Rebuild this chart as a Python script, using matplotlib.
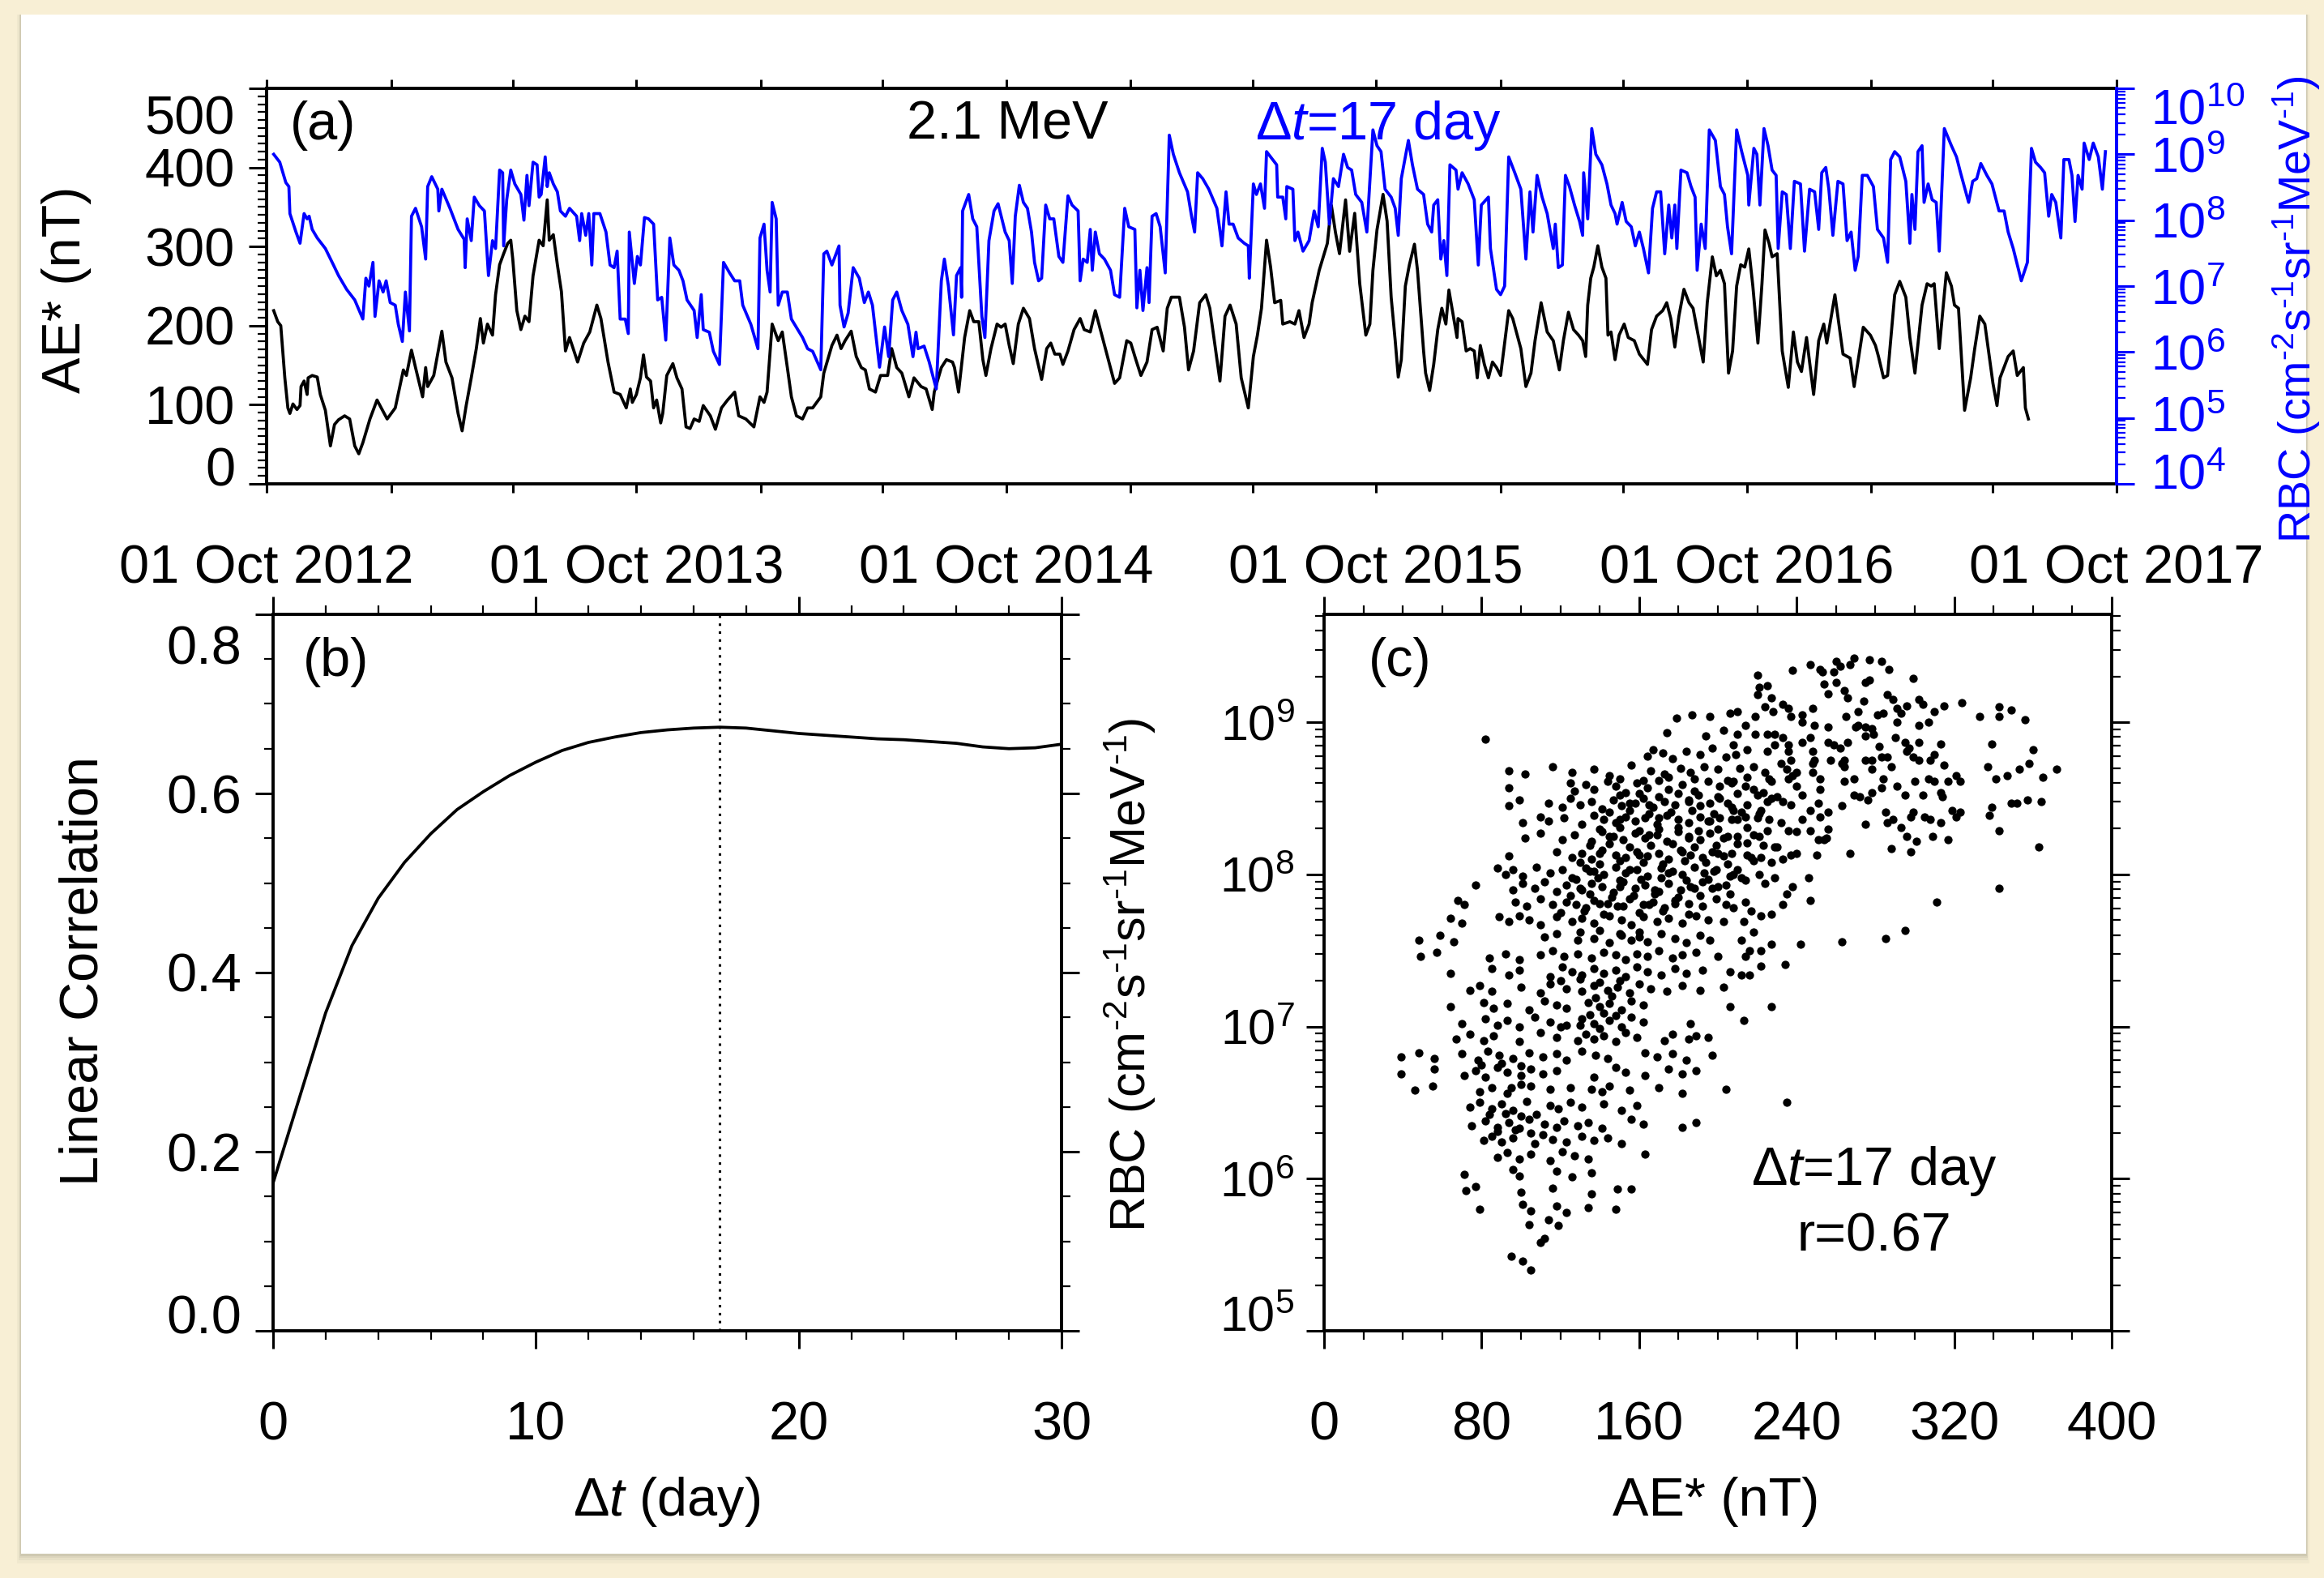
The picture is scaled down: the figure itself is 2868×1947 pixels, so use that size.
import numpy as np
import matplotlib
matplotlib.use("Agg")
import matplotlib.pyplot as plt
from matplotlib.patches import Rectangle
from matplotlib.transforms import Affine2D
from matplotlib.ticker import MultipleLocator, FixedLocator, FixedFormatter, LogLocator, NullFormatter

plt.rcParams['font.family'] = ['Liberation Sans', 'DejaVu Sans']
plt.rcParams['mathtext.fontset'] = 'custom'
plt.rcParams['mathtext.rm'] = 'Liberation Sans'
plt.rcParams['mathtext.it'] = 'Liberation Sans:italic'
plt.rcParams['mathtext.bf'] = 'Liberation Sans:bold'

# ---------------- data ----------------
START = np.datetime64('2012-10-01')
END = np.datetime64('2017-10-01')

# (a) AE* (nT), days since 01 Oct 2012
ae_days = [7,11,14,18,21,23,26,30,33,34,37,40,41,45,50,53,58,63,67,71,77,82,87,91,95,102,109,114,119,127,
           131,135,138,143,147,154,157,159,165,173,177,183,189,193,197,202,207,211,214,218,223,226,230,234,238,241,243,247,251,255,
           259,263,269,273,277,279,283,287,291,295,299,307,313,319,326,330,337,343,349,355,359,
           361,365,369,372,375,379,382,385,389,391,395,401,405,410,414,418,422,427,431,438,443,449,455,462,466,473,481,487,491,494,
           499,505,509,514,518,523,529,534,539,547,550,558,563,567,571,577,582,587,591,595,601,606,613,617,622,627,634,639,646,651,
           657,659,666,671,677,679,683,689,694,698,703,707,710,715,721,
           725,729,733,737,742,747,753,758,765,770,774,778,783,786,791,797,803,807,813,818,823,830,837,842,849,853,858,863,869,874,
           879,885,889,893,901,906,910,915,921,927,931,935,941,946,951,957,962,969,974,978,982,987,991,995,1001,1003,1010,1015,1019,1024,
           1029,1032,1039,1047,1051,1055,1059,1065,1069,1074,1079,1085,
           1089,1092,1096,1102,1106,1110,1114,1117,1120,1124,1128,1133,1136,1142,1144,1148,1152,1156,1160,1164,
           1167,1171,1175,1176,1180,1184,1188,1192,1195,1198,1202,1206,1210,1214,1218,1226,1230,1238,1243,1248,
           1252,1258,1264,1270,1276,1280,1285,1290,1295,1299,1302,1304,1307,1310,1314,1318,1322,1324,1327,1331,
           1335,1340,1344,1350,1355,1363,1367,1372,1378,1382,1386,1390,1394,1399,1404,1408,1412,1418,1422,1427,
           1431,1435,1439,1443,1447,1451,
           1455,1459,1463,1467,1472,1476,1479,1483,1486,1491,1496,1502,1507,1511,1515,1520,1527,1532,1537,1540,
           1548,1556,1563,1567,1576,1583,1588,1591,1596,1600,1607,1612,1618,1622,1627,1634,1639,1643,1646,1651,
           1658,1663,1666,1670,1676,1682,1686,1691,1696,1704,1708,1711,1719,1724,1728,1734,1736,1739]
ae_nT = [219,205,200,134,96,89,101,94,99,123,130,113,134,137,135,113,93,48,75,81,86,82,48,38,52,82,106,94,82,96,
         120,144,137,169,147,110,147,123,137,193,154,134,89,67,99,134,171,209,178,202,188,239,277,291,304,308,284,219,195,212,
         205,263,308,301,359,308,315,277,243,168,185,154,178,192,226,209,154,116,113,96,120,
         103,113,134,163,135,130,96,106,77,89,137,152,134,120,72,70,82,79,99,86,69,96,106,116,86,82,72,110,103,116,
         202,181,192,147,110,86,82,96,96,110,140,175,188,171,181,193,161,147,144,120,116,137,137,171,147,140,110,134,123,120,
         94,116,147,157,154,147,116,185,219,205,205,157,137,171,202,
         198,202,175,152,202,222,209,171,132,171,178,164,164,151,168,195,209,195,192,219,195,161,127,134,181,178,157,137,154,195,
         198,168,222,236,236,198,144,168,229,239,222,185,130,212,226,202,134,96,161,188,222,308,274,229,232,202,205,202,219,185,
         202,229,270,304,352,318,291,359,294,342,253,188,
         202,270,321,366,332,236,181,135,157,250,277,303,270,168,140,118,151,195,222,202,
         245,215,185,209,205,168,171,168,134,175,151,134,154,147,137,219,209,171,123,140,
         181,229,192,181,144,181,217,195,188,181,161,226,260,274,301,274,260,188,192,157,
         188,202,185,181,164,151,195,212,219,229,209,173,212,246,229,222,195,154,229,287,
         263,270,253,140,168,250,
         277,274,297,250,178,253,321,304,287,291,168,122,192,154,142,185,113,181,202,178,
         239,164,159,123,198,188,175,161,134,137,239,256,236,185,140,226,253,250,253,171,
         267,250,226,222,93,134,171,212,202,127,99,134,161,168,137,147,96,82]

# (a) RBC, log10 (cm^-2 s^-1 sr^-1 MeV^-1), days since 01 Oct 2012
rbc_days = [7,13,19,22,23,29,33,37,40,42,45,50,58,66,71,79,87,95,98,101,105,107,111,115,118,122,127,130,134,137,
            141,143,147,153,157,159,163,169,170,173,181,189,195,196,198,202,205,210,215,219,223,226,230,233,234,237,241,245,251,254,
            257,259,263,267,269,271,275,277,279,283,287,290,295,299,306,309,311,315,318,321,323,329,335,339,343,346,349,354,357,358,
            363,366,369,373,377,382,386,390,394,398,402,407,411,415,422,425,429,431,437,441,447,451,457,462,467,470,478,485,487,491,
            494,497,499,503,505,509,514,518,529,534,539,547,550,553,558,565,566,570,574,579,585,590,594,598,605,610,614,618,622,627,
            633,638,641,643,649,654,661,666,669,673,678,681,685,686,687,693,697,701,706,709,713,718,722,
            729,733,736,739,743,747,751,755,758,762,765,769,773,777,782,786,791,795,801,803,806,810,813,815,818,822,827,833,837,842,
            847,851,857,859,862,865,869,871,874,878,882,887,891,895,901,909,913,916,919,924,930,938,943,947,950,954,959,965,969,970,
            974,977,981,985,987,991,997,998,1003,1006,1007,1013,1015,1018,1023,1029,1034,1038,1042,1045,1049,1053,1058,1063,1067,1071,1075,1081,1086,
            1092,1096,1100,1104,1110,1114,1117,1120,1127,1131,1136,1142,1146,1150,1152,1156,1159,1162,1165,1168,
            1174,1176,1180,1186,1192,1196,1199,1206,1208,1214,1218,1222,1226,1232,1238,1243,1247,1250,1254,1259,
            1264,1270,1272,1275,1279,1282,1286,1291,1296,1299,1300,1304,1308,1312,1318,1323,1327,1331,1333,1338,
            1342,1347,1351,1355,1359,1364,1368,1372,1376,1380,1384,1387,1390,1392,1396,1402,1406,1410,1412,1416,
            1420,1424,1430,1435,1439,1442,1446,1451,
            1456,1462,1463,1468,1471,1474,1478,1482,1486,1490,1492,1496,1500,1504,1508,1514,1518,1523,1528,1532,
            1535,1539,1542,1546,1551,1556,1560,1564,1568,1571,1575,1580,1586,1590,1596,1600,1603,1607,1612,1618,
            1622,1624,1627,1630,1634,1636,1640,1644,1648,1651,1656,1663,1668,1672,1680,1684,1688,1692,1698,1703,
            1710,1715,1719,1724,1732,1738,1742,1746,1751,1755,1759,1762,1766,1771,1774,1779,1782,1785,1788,1792,
            1794,1799,1803,1808,1812,1815]
rbc_log10 = [9.00,8.88,8.57,8.51,8.10,7.82,7.65,8.10,8.02,8.06,7.86,7.73,7.57,7.32,7.16,6.95,6.79,6.50,7.12,7.00,
             7.36,6.54,7.08,6.91,7.08,6.75,6.71,6.42,6.16,6.91,6.32,8.06,8.18,7.90,7.41,8.51,8.66,8.47,8.14,8.47,
             8.18,7.86,7.71,7.28,8.02,7.69,8.35,8.22,8.14,7.16,7.69,7.57,8.76,8.72,7.61,8.31,8.76,8.55,8.39,8.00,
             8.68,8.22,8.88,8.84,8.35,8.39,8.96,8.51,8.72,8.55,8.43,8.14,8.06,8.18,8.06,7.69,8.10,7.77,8.10,7.32,
             8.10,8.10,7.82,7.32,7.28,7.53,6.50,6.50,6.28,7.82,
             7.04,7.45,7.32,8.04,8.02,7.94,6.79,6.83,6.18,7.73,7.32,7.24,7.08,6.79,6.63,6.22,6.87,6.34,6.30,6.01,
             5.81,7.36,7.20,7.08,7.08,6.71,6.42,6.05,7.73,7.94,7.24,6.91,8.27,8.02,6.71,6.91,6.91,6.50,6.22,6.05,
             6.01,5.73,7.49,7.53,7.32,7.61,6.71,6.38,6.59,7.28,7.12,6.75,6.91,6.71,5.77,6.38,5.93,6.79,6.91,6.63,
             6.42,5.93,6.30,6.05,6.09,5.85,5.44,7.08,7.41,7.00,6.26,7.16,7.28,6.83,8.14,8.39,8.02,7.90,6.54,6.22,
             7.69,8.14,8.25,
             7.82,7.69,7.04,8.06,8.53,8.27,8.18,7.82,7.36,7.08,7.12,8.23,8.02,8.02,7.45,7.36,8.37,8.23,8.14,7.08,
             7.41,7.36,7.86,7.24,7.82,7.49,7.41,7.24,6.87,6.83,8.18,7.90,7.86,6.67,7.24,6.63,7.28,6.75,8.06,8.10,
             7.90,7.20,9.29,9.00,8.72,8.43,8.06,7.82,8.72,8.63,8.47,8.18,7.61,8.43,7.94,7.94,7.73,7.65,7.61,7.12,
             8.55,8.39,8.55,8.18,9.04,8.96,8.84,8.35,8.35,8.02,8.51,8.47,7.69,7.82,7.53,7.69,8.14,7.90,9.09,8.88,
             7.94,8.63,8.51,9.00,8.80,8.76,8.39,8.27,7.82,
             9.37,9.13,9.04,8.47,8.35,8.18,7.77,8.63,9.21,8.84,8.47,8.39,7.94,7.82,8.23,8.31,7.41,7.69,7.16,8.84,
             8.76,8.47,8.72,8.55,8.31,7.32,8.23,8.35,7.57,6.95,6.87,7.00,8.96,8.72,8.47,7.41,8.43,7.82,8.68,8.35,
             8.10,7.57,7.94,7.28,7.32,8.68,8.51,8.23,7.98,7.77,8.72,8.02,9.39,9.00,8.84,8.55,8.23,8.10,7.94,8.27,
             7.98,7.90,7.61,7.82,7.57,7.20,8.18,8.43,8.43,7.49,8.23,7.73,8.23,7.57,8.76,8.72,8.51,8.35,7.24,7.94,
             7.57,9.37,9.21,8.51,8.39,7.90,7.49,9.37,
             9.04,8.68,8.23,9.09,9.00,8.23,9.39,9.13,8.76,8.68,7.57,8.43,8.39,7.57,8.59,8.55,7.53,8.47,8.43,7.86,
             8.72,8.80,8.47,7.77,8.59,8.55,7.69,7.82,7.24,7.45,8.68,8.68,8.51,7.86,7.73,7.36,8.92,9.04,8.96,8.59,
             7.65,8.39,7.86,9.04,9.13,8.27,8.55,8.31,8.27,7.53,9.39,9.13,8.96,8.72,8.27,8.59,8.63,8.86,8.68,8.55,
             8.14,8.14,7.82,7.57,7.08,7.36,9.09,8.88,8.80,8.72,8.06,8.39,8.27,7.73,8.92,8.92,8.68,7.98,8.68,8.47,
             9.17,8.92,9.17,8.96,8.47,9.04]

# (b) linear correlation vs lag
lag_days = list(range(31))
lin_corr = [0.165,0.26,0.355,0.43,0.483,0.523,0.555,0.582,0.602,0.620,0.635,0.648,0.657,0.663,0.668,0.671,
            0.673,0.674,0.673,0.670,0.667,0.665,0.663,0.661,0.660,0.658,0.656,0.652,0.650,0.651,0.655]
best_lag = 17
best_r = 0.67

# (c) scatter AE* (nT) vs log10 RBC(t + 17 day)
sc_ae = [179,187,196,206, 82,174,194,203,
         164,167,172,177,184,191,197,204,
         94,102,116,126,137,145,156,166,173,181,186,193,200,
         94,125,127,133,137,144,148,153,159,164,170,175,182,188,195,201,207,
         94,99,114,121,125,130,136,141,147,151,158,162,167,173,178,185,191,196,201,207,
         101,110,114,122,131,137,142,148,153,158,163,169,174,180,185,191,196,201,207,
         102,110,121,127,136,141,147,152,158,163,169,174,180,185,191,196,203,
         94,118,126,131,136,141,148,153,159,164,170,175,181,186,192,197,203,207,
         88,92,96,101,108,115,121,126,133,137,142,148,153,159,164,171,177,182,188,193,199,206,
         77,96,101,107,112,118,123,131,136,141,147,152,158,163,170,175,181,186,192,197,204,
         68,71,97,103,110,116,123,133,137,144,149,155,162,167,173,178,185,192,199,204,
         64,70,89,94,99,104,110,118,126,131,137,145,151,156,162,169,175,182,189,195,203,
         48,59,66,112,118,129,137,145,151,156,160,164,171,178,184,191,196,
         49,57,84,92,99,110,116,122,129,136,142,148,153,159,164,170,177,182,189,200,
         64,85,94,99,115,121,126,131,137,142,148,153,159,164,171,178,184,192,206,
         74,79,85,100,110,115,123,131,137,144,149,155,160,166,174,182,191,203,
         64,81,86,93,104,112,118,123,134,140,145,151,156,162,206,
         70,82,88,93,99,107,115,123,131,137,145,151,156,162,186,
         67,74,81,86,99,110,118,129,133,137,142,148,153,159,173,177,185,189,195,
         39,48,56,70,78,83,89,96,104,111,118,123,131,138,144,163,169,177,184,197,
         39,56,71,77,82,88,93,100,105,111,118,137,148,153,163,175,182,189,
         46,55,79,85,93,100,136,141,145,155,170,182,204,
         74,79,85,90,96,103,115,119,125,131,142,151,159,
         75,82,88,94,99,104,112,118,122,129,134,141,156,162,182,189,
         81,85,90,96,107,111,116,123,131,137,144,151,
         88,93,99,105,115,121,127,134,163,
         71,96,99,118,126,136,
         72,77,100,116,136,149,156,
         79,101,105,118,123,134,148,
         104,114,119, 110,112, 95,101, 105,
         220,238,247,252,253,259,260,262,267,269,277,283,287,299,
         221,225,220,227,254,256,260,264,266,275,277,274,286,289,302,304,315,324,
         210,219,224,228,233,236,237,243,243,248,249,256,265,271,271,275,278,281,284,291,293,296,291,302,307,310,333,343,343,349,356,
         210,214,219,225,229,233,236,243,247,248,249,256,259,262,266,257,264,270,275,279,282,290,295,297,302,313,339,360,
         208,209,215,225,229,236,237,232,235,238,240,248,252,263,264,275,278,278,283,286,288,296,299,302,308,310,315,337,341,347,353,358,365,372,
         211,218,224,227,236,240,248,252,256,264,269,269,272,276,278,283,284,291,295,300,304,307,310,313,314,317,321,323,
         208,214,218,223,227,233,237,243,243,247,251,252,263,275,285,286,289,293,298,299,305,308,313,319,321,323,338,339,343,349,352,357,364,
         208,214,221,226,232,236,240,247,251,254,256,255,296,301,309,317,288,298,267,363,
         210,215,221,223,229,217,222,227,233,237,240,250,
         208,214,221,224,229,238,235,233,246,247,343,311,
         208,214,217,222,227,218,212,213,
         227,242,263,285,295,
         216,222,214,222,234,212,216,227,213,235,
         150,160,170,180,190,200,210,220,230, 150,162,175,188,205,215,226,
         145,155,165,176,187,198,212,222, 140,150,160,170,180,190,200,215,225,
         135,145,155,166,177,188,199,210,230, 130,140,150,162,172,183,194,205,218,
         128,139,150,161,171,184,195,212, 125,135,146,157,168,180,191,206,
         120,132,142,160,172,185, 84,92,100,108, 88,97,105, 135,142,148, 138,146,
         155,165,185,205,215,225, 150,170,195,210,220, 145,165,185,205,218,
         140,160,182,200,215, 135,155,175,198,210, 130,150,168,188,200,
         128,140,152,165,178, 130,140,150,160, 120,130,140,150, 120,130,140,
         95,105,115,125, 80,90,100]
sc_log10 = [9.03,9.05,9.04,9.06, 8.89,8.93,8.91,8.95,
            8.78,8.82,8.80,8.76,8.81,8.79,8.83,8.77,
            8.68,8.66,8.71,8.67,8.69,8.65,8.72,8.68,8.66,8.70,8.67,8.71,8.69,
            8.57,8.60,8.55,8.59,8.56,8.61,8.58,8.54,8.60,8.57,8.62,8.56,8.59,8.55,8.61,8.58,8.60,
            8.45,8.49,8.47,8.44,8.50,8.46,8.48,8.43,8.49,8.45,8.47,8.50,8.44,8.48,8.46,8.49,8.45,8.47,8.50,8.44,
            8.34,8.38,8.35,8.37,8.33,8.39,8.36,8.34,8.38,8.35,8.37,8.33,8.39,8.36,8.34,8.38,8.35,8.37,8.36,
            8.24,8.27,8.23,8.26,8.22,8.28,8.25,8.23,8.27,8.24,8.26,8.22,8.28,8.25,8.23,8.27,8.24,
            8.12,8.15,8.11,8.14,8.10,8.16,8.13,8.11,8.15,8.12,8.14,8.10,8.16,8.13,8.11,8.15,8.12,8.14,
            8.04,8.00,8.03,7.99,8.05,8.01,8.03,7.98,8.04,8.02,8.00,8.05,8.01,8.03,7.99,8.04,8.02,8.00,8.05,8.01,8.03,7.99,
            7.93,7.90,7.94,7.91,7.95,7.89,7.93,7.90,7.94,7.92,7.88,7.95,7.91,7.93,7.89,7.94,7.90,7.92,7.95,7.91,7.93,
            7.83,7.80,7.82,7.79,7.84,7.80,7.82,7.78,7.83,7.81,7.79,7.84,7.80,7.82,7.78,7.83,7.81,7.79,7.84,7.80,
            7.71,7.68,7.72,7.69,7.73,7.70,7.67,7.72,7.69,7.71,7.68,7.73,7.70,7.67,7.72,7.69,7.71,7.68,7.73,7.70,7.69,
            7.57,7.60,7.56,7.59,7.61,7.57,7.58,7.55,7.60,7.57,7.59,7.56,7.61,7.58,7.55,7.60,7.57,
            7.46,7.49,7.45,7.48,7.44,7.47,7.50,7.46,7.48,7.45,7.49,7.47,7.44,7.48,7.46,7.50,7.45,7.47,7.49,7.46,
            7.35,7.38,7.34,7.37,7.33,7.39,7.36,7.34,7.38,7.35,7.37,7.33,7.39,7.36,7.34,7.38,7.35,7.37,7.36,
            7.24,7.27,7.23,7.26,7.22,7.28,7.25,7.23,7.27,7.24,7.26,7.22,7.28,7.25,7.23,7.27,7.24,7.26,
            7.13,7.16,7.12,7.15,7.11,7.17,7.14,7.12,7.16,7.13,7.15,7.11,7.17,7.14,7.13,
            7.02,7.05,7.01,7.04,7.00,7.06,7.03,7.01,7.05,7.02,7.04,7.00,7.06,7.03,7.02,
            6.92,6.95,6.91,6.94,6.90,6.96,6.93,6.91,6.95,6.92,6.94,6.90,6.96,6.93,6.91,6.95,6.92,6.94,6.93,
            6.80,6.83,6.79,6.82,6.78,6.84,6.81,6.79,6.83,6.80,6.82,6.78,6.84,6.81,6.79,6.83,6.80,6.82,6.78,6.81,
            6.69,6.72,6.68,6.71,6.67,6.73,6.70,6.68,6.72,6.69,6.71,6.67,6.73,6.70,6.68,6.72,6.69,6.71,
            6.58,6.61,6.57,6.60,6.56,6.62,6.59,6.57,6.61,6.58,6.60,6.56,6.59,
            6.47,6.50,6.46,6.49,6.45,6.51,6.48,6.46,6.50,6.47,6.49,6.45,6.48,
            6.35,6.38,6.34,6.37,6.33,6.39,6.36,6.34,6.38,6.35,6.37,6.33,6.39,6.36,6.34,6.37,
            6.25,6.28,6.24,6.27,6.23,6.29,6.26,6.24,6.28,6.25,6.27,6.23,
            6.14,6.17,6.13,6.16,6.12,6.18,6.15,6.13,6.16,
            6.03,6.06,6.02,6.05,6.01,6.04,
            5.92,5.95,5.91,5.94,5.90,5.93,5.93,
            5.80,5.83,5.79,5.82,5.78,5.81,5.80,
            5.70,5.73,5.69, 5.58,5.61, 5.49,5.46, 5.40,
            9.31,9.34,9.38,9.35,9.33,9.33,9.40,9.37,9.38,9.42,9.41,9.40,9.35,9.29,
            9.23,9.24,9.18,9.16,9.25,9.19,9.26,9.21,9.16,9.26,9.28,9.14,9.18,9.15,9.15,9.12,9.11,9.13,
            9.07,9.04,9.10,9.07,9.12,9.09,9.04,9.05,9.00,9.09,8.98,8.97,9.04,9.07,8.98,8.97,8.96,9.05,9.06,9.09,9.06,9.11,9.00,8.98,9.00,9.07,9.04,9.04,9.10,9.08,9.02,
            8.92,8.98,8.92,8.92,8.92,8.90,8.85,8.87,8.90,8.81,8.75,8.87,8.85,8.83,8.87,8.75,8.75,8.97,8.91,8.92,8.84,8.90,8.87,8.83,8.87,8.86,8.86,8.82,
            8.85,8.79,8.82,8.81,8.85,8.81,8.75,8.73,8.69,8.65,8.67,8.73,8.63,8.73,8.71,8.75,8.75,8.69,8.77,8.77,8.71,8.81,8.77,8.75,8.75,8.79,8.72,8.71,8.63,8.65,8.69,8.73,8.64,8.69,
            8.70,8.71,8.67,8.61,8.63,8.58,8.67,8.56,8.41,8.61,8.63,8.52,8.51,8.49,8.54,8.57,8.63,8.58,8.52,8.61,8.52,8.63,8.61,8.54,8.51,8.61,8.65,8.61,
            8.61,8.58,8.56,8.54,8.50,8.48,8.46,8.52,8.36,8.42,8.47,8.38,8.45,8.33,8.41,8.34,8.36,8.31,8.38,8.41,8.38,8.36,8.34,8.42,8.38,8.41,8.39,8.44,8.29,8.47,8.47,8.49,8.48,
            8.42,8.38,8.40,8.36,8.34,8.29,8.28,8.29,8.23,8.23,8.30,8.24,8.25,8.22,8.25,8.23,8.17,8.15,8.14,8.18,
            8.25,8.21,8.25,8.19,8.18,8.11,8.11,8.08,8.10,8.13,8.14,8.13,
            8.00,7.96,8.00,7.94,7.98,7.92,7.87,7.80,7.98,7.83,7.91,7.82,
            7.78,7.82,7.76,7.73,7.74,7.62,7.57,7.69,
            7.54,7.54,7.56,7.58,7.63,
            7.50,7.50,7.46,7.40,7.41,7.34,7.34,7.13,7.04,6.50,
            8.52,8.53,8.51,8.53,8.52,8.51,8.53,8.52,8.51, 8.63,8.62,8.64,8.63,8.62,8.64,8.63,
            8.41,8.42,8.40,8.41,8.42,8.40,8.41,8.42, 8.30,8.31,8.29,8.30,8.31,8.29,8.30,8.31,8.29,
            8.19,8.20,8.18,8.19,8.20,8.18,8.19,8.20,8.18, 8.08,8.07,8.09,8.08,8.07,8.09,8.08,8.07,8.09,
            7.97,7.98,7.96,7.97,7.98,7.96,7.97,7.98, 7.86,7.87,7.85,7.86,7.87,7.85,7.86,7.87,
            7.75,7.76,7.74,7.75,7.76,7.74, 6.42,6.43,6.41,6.42, 6.31,6.32,6.30, 7.08,7.09,7.07, 7.19,7.20,
            8.47,8.46,8.48,8.47,8.46,8.48, 8.36,8.37,8.35,8.36,8.37, 8.25,8.26,8.24,8.25,8.26,
            8.14,8.13,8.15,8.14,8.13, 8.02,8.03,8.01,8.02,8.03, 7.91,7.92,7.90,7.91,7.92,
            7.80,7.81,7.79,7.80,7.81, 7.62,7.63,7.61,7.62, 7.30,7.31,7.29,7.30, 7.00,7.01,6.99,
            6.60,6.61,6.59,6.60, 6.75,6.76,6.74]

# ---------------- figure ----------------
W, H = 2868, 1947
fig = plt.figure(figsize=(W / 100, H / 100), dpi=100, facecolor='#F8EFD5')

def fbox(x0, y0, x1, y1):
    return [x0 / W, 1 - y1 / H, (x1 - x0) / W, (y1 - y0) / H]

def shift(txt, dy):
    txt.set_transform(txt.get_transform() + Affine2D().translate(0, dy))

# card shadow + card
for k, a in [(12, 0.05), (8, 0.07), (5, 0.09), (3, 0.10)]:
    b = fbox(26 - k * 0.4, 18, 2846 + k * 0.3, 1917 + k)
    fig.patches.append(Rectangle((b[0], b[1]), b[2], b[3], transform=fig.transFigure,
                                 facecolor='#6e6a5e', alpha=a, edgecolor='none', zorder=-20))
b = fbox(26, 18, 2846, 1917)
fig.patches.append(Rectangle((b[0], b[1]), b[2], b[3], transform=fig.transFigure,
                             facecolor='white', edgecolor='none', zorder=-10))

FS = 48
FS_LOG = 44
LW_SP = 2.8
LW_LINE = 2.7

# RBC unit label (short hyphens in the exponents when mathtext supports \text)
RBC_LABEL = r'RBC (cm$^{\text{-}2}$s$^{\text{-}1}$sr$^{\text{-}1}$MeV$^{\text{-}1}$)'
try:
    from matplotlib.mathtext import MathTextParser
    MathTextParser('path').parse(RBC_LABEL, 100, matplotlib.font_manager.FontProperties(size=40))
except Exception:
    RBC_LABEL = r'RBC (cm$^{-2}$s$^{-1}$sr$^{-1}$MeV$^{-1}$)'

def style_spines(ax, color='black'):
    for s in ax.spines.values():
        s.set_linewidth(LW_SP)
        s.set_color(color)

# ---------- panel (a) ----------
ax_a = fig.add_axes(fbox(329, 109, 2612, 597))
total_days = int((END - START).astype(int))
ax_a.plot(ae_days, ae_nT, color='black', lw=LW_LINE, zorder=3)
ax_a.set_xlim(0, total_days)
ax_a.set_ylim(0, 500)
style_spines(ax_a)
ax_a.spines['right'].set_visible(False)

months = np.arange(np.datetime64('2012-10'), np.datetime64('2017-11'), 4)
tick_days = (months.astype('datetime64[D]') - START).astype(int)
tick_labels = [('01 Oct ' + str(m)[:4]) if str(m).endswith('-10') else '' for m in months]
ax_a.set_xticks(tick_days)
ax_a.set_xticklabels(tick_labels)
ax_a.tick_params(axis='x', which='major', direction='out', length=8, width=2.2,
                 top=True, bottom=True, labelsize=FS, pad=46)
ax_a.set_yticks([0, 100, 200, 300, 400, 500])
ax_a.yaxis.set_minor_locator(MultipleLocator(10))
ax_a.tick_params(axis='y', which='major', direction='out', length=16, width=2.2,
                 left=True, right=False, labelsize=FS, pad=12)
ax_a.tick_params(axis='y', which='minor', direction='out', length=8, width=1.6,
                 left=True, right=False)
yt = ax_a.yaxis.get_major_ticks()
shift(yt[0].label1, 21)
shift(yt[-1].label1, -32)

ax_r = ax_a.twinx()
ax_r.plot(rbc_days, 10 ** np.array(rbc_log10), color='blue', lw=LW_LINE, zorder=2)
ax_r.set_yscale('log')
ax_r.set_ylim(1e4, 1e10)
ax_r.set_xlim(0, total_days)
for s in ['left', 'top', 'bottom']:
    ax_r.spines[s].set_visible(False)
ax_r.spines['right'].set_color('blue')
ax_r.spines['right'].set_linewidth(LW_SP)
rexp = [4, 5, 6, 7, 8, 9, 10]
ax_r.yaxis.set_major_locator(FixedLocator([10.0 ** e for e in rexp]))
ax_r.yaxis.set_major_formatter(FixedFormatter([r'$10^{%d}$' % e for e in rexp]))
ax_r.yaxis.set_minor_locator(LogLocator(base=10, subs=np.arange(2, 10), numticks=20))
ax_r.yaxis.set_minor_formatter(NullFormatter())
ax_r.tick_params(axis='y', which='major', direction='out', length=16, width=2.2,
                 colors='blue', labelsize=FS_LOG, pad=14)
ax_r.tick_params(axis='y', which='minor', direction='out', length=8, width=1.6, colors='blue')
rt = ax_r.yaxis.get_major_ticks()
rt[0].label2.set_va('baseline')
shift(rt[0].label2, -7)
shift(rt[1].label2, 5)
rt[-1].label2.set_va('top')

fig.text(399 / W, 1 - 155 / H, '(a)', fontsize=FS, ha='center', va='center')
fig.text(1243 / W, 1 - 155 / H, '2.1 MeV', fontsize=FS, ha='center', va='center')
fig.text(1701 / W, 1 - 155 / H, r'$\Delta t$=%d day' % best_lag, fontsize=FS,
         ha='center', va='center', color='blue')
fig.text(82 / W, 1 - 357 / H, 'AE* (nT)', rotation=90, fontsize=FS, ha='center', va='center')
fig.text(2834 / W, 1 - 382 / H, RBC_LABEL, rotation=90,
         fontsize=40, ha='center', va='center', color='blue')

# ---------- panel (b) ----------
ax_b = fig.add_axes(fbox(337, 758, 1310, 1642))
ax_b.plot(lag_days, lin_corr, color='black', lw=LW_LINE)
ax_b.axvline(best_lag, color='black', lw=2.2, ls=(0, (1, 2.2)))
ax_b.set_xlim(0, 30)
ax_b.set_ylim(0, 0.8)
style_spines(ax_b)
ax_b.set_xticks([0, 10, 20, 30])
ax_b.xaxis.set_minor_locator(MultipleLocator(2))
ax_b.set_yticks([0.0, 0.2, 0.4, 0.6, 0.8])
ax_b.set_yticklabels(['0.0', '0.2', '0.4', '0.6', '0.8'])
ax_b.yaxis.set_minor_locator(MultipleLocator(0.05))
ax_b.tick_params(axis='both', which='major', direction='out', length=16, width=2.2,
                 top=True, right=True, labelsize=FS)
ax_b.tick_params(axis='both', which='minor', direction='out', length=8, width=1.6,
                 top=True, right=True)
ax_b.tick_params(axis='x', which='major', pad=46)
ax_b.tick_params(axis='y', which='major', pad=12)
bt = ax_b.yaxis.get_major_ticks()
shift(bt[0].label1, 21)
shift(bt[-1].label1, -37)
fig.text(415 / W, 1 - 817 / H, '(b)', fontsize=FS, ha='center', va='center')
fig.text(104 / W, 1 - 1198 / H, 'Linear Correlation', rotation=90, fontsize=FS,
         ha='center', va='center')
fig.text(823 / W, 1 - 1853 / H, r'$\Delta t$ (day)', fontsize=FS, ha='center', va='center')

# ---------- panel (c) ----------
ax_c = fig.add_axes(fbox(1634, 758, 2606, 1642))
ax_c.plot(sc_ae, 10 ** np.array(sc_log10), 'o', ms=7.4, color='black', mec='none')
ax_c.set_yscale('log')
ax_c.set_xlim(0, 400)
ax_c.set_ylim(1e5, 10 ** 9.71)
style_spines(ax_c)
ax_c.set_xticks([0, 80, 160, 240, 320, 400])
ax_c.xaxis.set_minor_locator(MultipleLocator(20))
cexp = [5, 6, 7, 8, 9]
ax_c.yaxis.set_major_locator(FixedLocator([10.0 ** e for e in cexp]))
ax_c.yaxis.set_major_formatter(FixedFormatter([r'$10^{%d}$' % e for e in cexp]))
ax_c.yaxis.set_minor_locator(LogLocator(base=10, subs=np.arange(2, 10), numticks=20))
ax_c.yaxis.set_minor_formatter(NullFormatter())
ax_c.tick_params(axis='both', which='major', direction='out', length=16, width=2.2,
                 top=True, right=True, labelsize=FS)
ax_c.tick_params(axis='y', which='major', labelsize=FS_LOG, pad=10)
ax_c.tick_params(axis='both', which='minor', direction='out', length=8, width=1.6,
                 top=True, right=True)
ax_c.tick_params(axis='x', which='major', pad=46)
ct = ax_c.yaxis.get_major_ticks()
ct[0].label1.set_va('baseline')
fig.text(1728 / W, 1 - 817 / H, '(c)', fontsize=FS, ha='center', va='center')
fig.text(1394 / W, 1 - 1203 / H, RBC_LABEL, rotation=90,
         fontsize=44, ha='center', va='center')
fig.text(2118 / W, 1 - 1853 / H, 'AE* (nT)', fontsize=FS, ha='center', va='center')
fig.text(2313 / W, 1 - 1445 / H, r'$\Delta t$=%d day' % best_lag, fontsize=FS,
         ha='center', va='center')
fig.text(2313 / W, 1 - 1527 / H, 'r=%.2f' % best_r, fontsize=FS, ha='center', va='center')

fig.savefig('out.png', dpi=100, facecolor=fig.get_facecolor())
